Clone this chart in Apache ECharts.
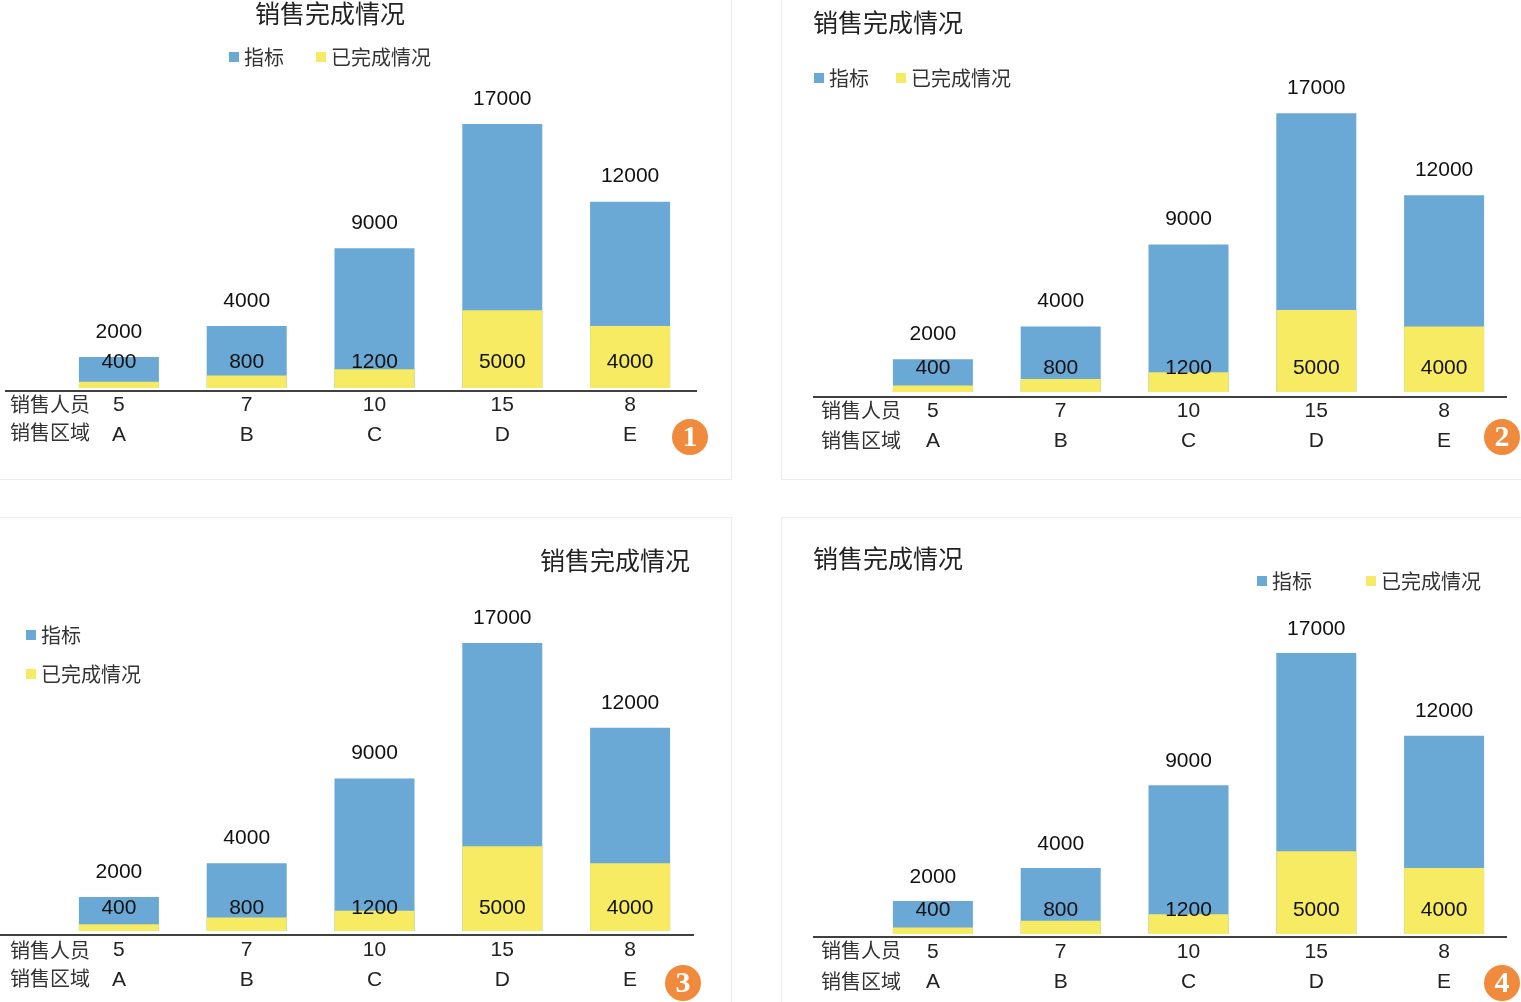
<!DOCTYPE html>
<html>
<head>
<meta charset="utf-8">
<script src="https://cdn.jsdelivr.net/npm/echarts@6/dist/echarts.min.js"></script>
<style>
html,body{margin:0;padding:0;background:#fff;overflow:hidden;width:1521px;height:1002px}
.frame{position:absolute;border:1px solid #ececec;box-sizing:border-box}
.chart{position:absolute}
</style>
</head>
<body>
<div class="frame" style="left:-2px;top:-2px;width:734px;height:482px"></div>
<div class="frame" style="left:781px;top:-2px;width:800px;height:482px"></div>
<div class="frame" style="left:-2px;top:517px;width:734px;height:600px"></div>
<div class="frame" style="left:781px;top:517px;width:800px;height:600px"></div>
<div class="chart" id="c1" style="left:0;top:0;width:731px;height:479px"></div>
<div class="chart" id="c2" style="left:782px;top:0;width:739px;height:479px"></div>
<div class="chart" id="c3" style="left:0;top:518px;width:731px;height:484px"></div>
<div class="chart" id="c4" style="left:782px;top:518px;width:739px;height:484px"></div>
<script>
// 数据
const regions = ['A', 'B', 'C', 'D', 'E']        // 销售区域
const staff = [5, 7, 10, 15, 8]                    // 销售人员
const targets = [2000, 4000, 9000, 17000, 12000]   // 指标
const done = [400, 800, 1200, 5000, 4000]          // 已完成情况
const seriesNames = ['指标', '已完成情况']
const rowHeads = ['销售人员', '销售区域']
const chartTitle = '销售完成情况'
const badges = ['1', '2', '3', '4']

const BLUE = '#6aa8d6'
const YELLOW = '#f6eb63'
const CJK = '"Noto Sans CJK SC", sans-serif'
const NUM = '"Liberation Sans", Arial, sans-serif'

// 四个面板的布局 (局部坐标)
const panels = [
  { id: 'c1', gridLeft: 55, baseY: 388, px: 15.53, topDist: 15, inDist: 16, margin: 2,
    axisY: 391, axisX1: 5, axisX2: 697, headX: 10, headY: [404, 432],
    title: { left: 255, top: 0 }, legend: { left: 229, top: 47, orient: 'horizontal', itemGap: 32 },
    badge: [690, 437] },
  { id: 'c2', gridLeft: 87, baseY: 392, px: 16.4, topDist: 15, inDist: 14, margin: 4,
    axisY: 397, axisX1: 31, axisX2: 725, headX: 39, headY: [410, 440],
    title: { left: 31, top: 9 }, legend: { left: 32, top: 68, orient: 'horizontal', itemGap: 27 },
    badge: [720, 437] },
  { id: 'c3', gridLeft: 55, baseY: 413, px: 16.94, topDist: 15, inDist: 13, margin: 4,
    axisY: 417, axisX1: 0, axisX2: 694, headX: 10, headY: [432, 460],
    title: { left: 540, top: 29 }, legend: { left: 26, top: 107, orient: 'vertical', itemGap: 19 },
    badge: [683, 465] },
  { id: 'c4', gridLeft: 87, baseY: 416, px: 16.53, topDist: 14, inDist: 14, margin: 3,
    axisY: 419, axisX1: 31, axisX2: 725, headX: 39, headY: [432, 463],
    title: { left: 31, top: 27 }, legend: { left: 475, top: 53, orient: 'horizontal', itemGap: 54 },
    badge: [720, 465] }
]

function getOption(p, idx) {
  const gridTop = p.baseY - 20 * p.px
  const graphic = [{
    type: 'line',
    shape: { x1: p.axisX1, y1: p.axisY, x2: p.axisX2, y2: p.axisY },
    style: { stroke: '#404040', lineWidth: 2 }
  }]
  rowHeads.forEach((t, i) => {
    graphic.push({
      type: 'text', x: p.headX, y: p.headY[i],
      style: { text: t, font: '20px ' + CJK, fill: '#333', verticalAlign: 'middle' }
    })
  })
  graphic.push({
    type: 'group', x: p.badge[0], y: p.badge[1],
    children: [
      { type: 'circle', shape: { cx: 0, cy: 0, r: 18 }, style: { fill: '#f08a3c' } },
      { type: 'text', x: 0, y: 1,
        style: { text: badges[idx], font: 'bold 30px "Liberation Serif", serif', fill: '#fff',
                 align: 'center', verticalAlign: 'middle' } }
    ]
  })
  const valueLabel = {
    show: true, fontSize: 21, lineHeight: 20, fontFamily: NUM, color: '#111'
  }
  return {
    animation: false,
    title: {
      text: chartTitle, left: p.title.left, top: p.title.top, padding: 0,
      textStyle: { fontSize: 25, fontWeight: 'normal', color: '#222', fontFamily: CJK, lineHeight: 26 }
    },
    legend: {
      data: seriesNames, left: p.legend.left, top: p.legend.top, orient: p.legend.orient,
      itemGap: p.legend.itemGap, itemWidth: 10, itemHeight: 10, icon: 'rect', padding: 0,
      textStyle: { fontSize: 20, color: '#333', fontFamily: CJK }
    },
    grid: { left: p.gridLeft, width: 639, top: gridTop, height: p.baseY - gridTop, outerBoundsMode: 'none' },
    xAxis: {
      type: 'category', data: regions,
      axisLine: { show: false }, axisTick: { show: false },
      axisLabel: {
        margin: p.margin, interval: 0, lineHeight: 30, fontSize: 21, color: '#222',
        fontFamily: '"Liberation Sans", Arial, sans-serif',
        formatter: (v, i) => staff[i] + '\n' + v
      }
    },
    yAxis: { type: 'value', min: 0, max: 20000, show: false },
    series: [
      { name: seriesNames[0], type: 'bar', data: targets, barWidth: 80, barGap: '-100%',
        itemStyle: { color: BLUE },
        label: Object.assign({ position: 'top', distance: p.topDist }, valueLabel) },
      { name: seriesNames[1], type: 'bar', data: done, barWidth: 80, barGap: '-100%',
        itemStyle: { color: YELLOW },
        label: Object.assign({ position: 'insideBottom', distance: p.inDist }, valueLabel) }
    ],
    graphic: graphic
  }
}

panels.forEach((p, i) => {
  const chart = echarts.init(document.getElementById(p.id), null, { renderer: 'canvas' })
  chart.setOption(getOption(p, i))
})
</script>
</body>
</html>
